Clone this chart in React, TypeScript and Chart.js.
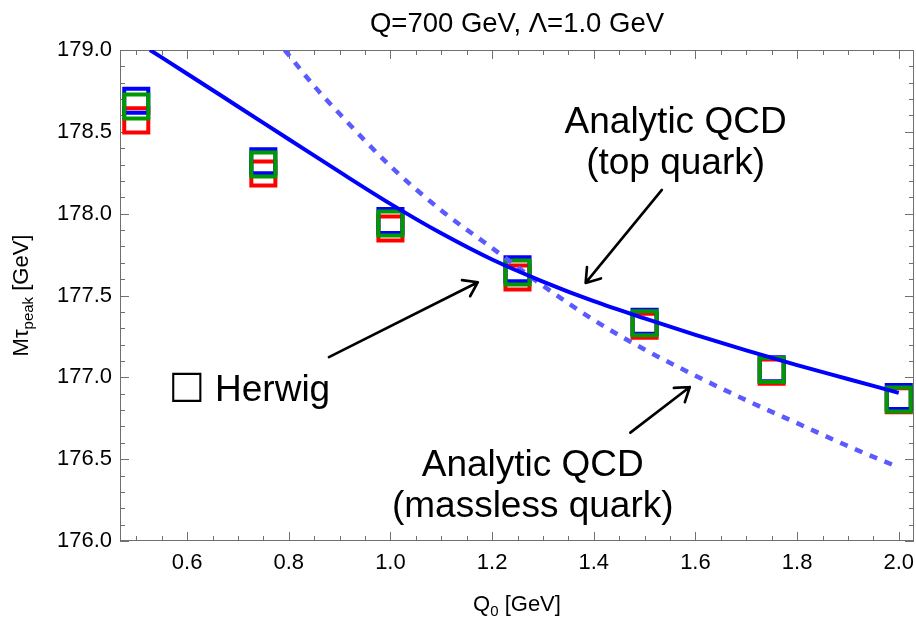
import React, { useEffect, useRef } from 'react';
import { Chart, registerables } from 'chart.js';

Chart.register(...registerables);

// ---- data ----
const herwigQ0 = [0.5, 0.75, 1.0, 1.25, 1.5, 1.75, 2.0];
const herwigRed = [178.57, 178.245, 177.91, 177.61, 177.315, 177.035, 176.86];
const herwigBlue = [178.69, 178.32, 177.955, 177.66, 177.34, 177.05, 176.88];
const herwigGreen = [178.655, 178.3, 177.94, 177.64, 177.33, 177.045, 176.865];

const topQuarkQ0 = [0.527, 0.6, 0.7, 0.8, 0.9, 1.0, 1.1, 1.2, 1.3, 1.4, 1.5, 1.6, 1.7, 1.8, 1.9, 2.0];
const topQuarkM = [179.0, 178.855, 178.655, 178.455, 178.255, 178.06, 177.88, 177.72, 177.585, 177.465, 177.36, 177.26, 177.165, 177.075, 176.99, 176.905];

const masslessQ0 = [0.792, 0.85, 0.9, 1.0, 1.1, 1.2, 1.3, 1.4, 1.5, 1.6, 1.7, 1.8, 1.9, 2.0];
const masslessM = [179.0, 178.78, 178.61, 178.29, 178.02, 177.79, 177.56, 177.35, 177.17, 177.01, 176.86, 176.72, 176.58, 176.45];

const xTickLabels = ['0.6', '0.8', '1.0', '1.2', '1.4', '1.6', '1.8', '2.0'];
const yTickLabels = ['176.0', '176.5', '177.0', '177.5', '178.0', '178.5', '179.0'];

const titleText = 'Q=700 GeV, \u039B=1.0 GeV';
const xTitleMain = 'Q';
const xTitleSub = '0';
const xTitleRest = ' [GeV]';
const yTitleMain = 'M\u03C4';
const yTitleSub = 'peak';
const yTitleRest = ' [GeV]';

// annotations (anchored in data coordinates)
const annotationTexts = [
  { lines: ['Analytic QCD', '(top quark)'], x: 1.561, y: 178.491, align: 'center' },
  { lines: ['Analytic QCD', '(massless quark)'], x: 1.28, y: 176.398, align: 'center' },
];
const herwigSymbol = '\u25A1';
const herwigLabel = 'Herwig';
const herwigSymbolAt = [0.5675, 176.858];
const herwigLabelAt = [0.655, 176.858];
const arrowFrom = [
  [1.534, 178.145],
  [0.879, 177.123],
  [1.472, 176.662],
];
const arrowTo = [
  [1.384, 177.577],
  [1.172, 177.581],
  [1.589, 176.941],
];

const FONT = "'Liberation Sans', Arial, Helvetica, sans-serif";

const toXY = (xs: number[], ys: number[]) => xs.map((x, i) => ({ x, y: ys[i] }));

const matchLabel = (labels: string[], v: number) => {
  const l = labels.find((s) => Math.abs(parseFloat(s) - v) < 1e-6);
  return l === undefined ? '' : l;
};

const framePlugin = {
  id: 'frameTicks',
  beforeDatasetsDraw(chart: any) {
    const { ctx, chartArea: a } = chart;
    ctx.save();
    ctx.strokeStyle = '#707070';
    ctx.lineWidth = 1;
    ctx.strokeRect(a.left + 0.5, a.top + 0.5, a.right - a.left - 1, a.bottom - a.top - 1);
    ctx.beginPath();
    const xs = chart.scales.x;
    const xLabels: [string, number][] = [];
    xs.ticks.forEach((t: any, i: number) => {
      const px = Math.round(xs.getPixelForTick(i)) + 0.5;
      const lab = matchLabel(xTickLabels, t.value);
      const len = lab ? 9 : 5;
      if (lab) xLabels.push([lab, xs.getPixelForTick(i)]);
      ctx.moveTo(px, a.bottom);
      ctx.lineTo(px, a.bottom - len);
      ctx.moveTo(px, a.top);
      ctx.lineTo(px, a.top + len);
    });
    const ys = chart.scales.y;
    ys.ticks.forEach((t: any, i: number) => {
      const py = Math.round(ys.getPixelForTick(i)) + 0.5;
      const len = t.label ? 9 : 5;
      ctx.moveTo(a.left, py);
      ctx.lineTo(a.left + len, py);
      ctx.moveTo(a.right, py);
      ctx.lineTo(a.right - len, py);
    });
    ctx.stroke();
    // x tick labels
    ctx.fillStyle = '#000';
    ctx.font = `22px ${FONT}`;
    ctx.textAlign = 'center';
    ctx.textBaseline = 'middle';
    xLabels.forEach(([lab, px]) => ctx.fillText(lab, px, a.bottom + 22));
    ctx.restore();
  },
};

const textPlugin = {
  id: 'texts',
  afterDatasetsDraw(chart: any) {
    const { ctx, chartArea: a } = chart;
    const xs = chart.scales.x;
    const ys = chart.scales.y;
    ctx.save();
    ctx.fillStyle = '#000';
    ctx.textBaseline = 'alphabetic';

    // title
    ctx.font = `27.5px ${FONT}`;
    ctx.textAlign = 'center';
    ctx.fillText(titleText, (a.left + a.right) / 2, 32);

    // x title with subscript
    ctx.textAlign = 'left';
    ctx.font = `22px ${FONT}`;
    const wQ = ctx.measureText(xTitleMain).width;
    const wRest = ctx.measureText(xTitleRest).width;
    ctx.font = `15px ${FONT}`;
    const wSub = ctx.measureText(xTitleSub).width;
    let xx = (a.left + a.right) / 2 - (wQ + wSub + wRest) / 2;
    const xb = 611;
    ctx.font = `22px ${FONT}`;
    ctx.fillText(xTitleMain, xx, xb);
    xx += wQ;
    ctx.font = `15px ${FONT}`;
    ctx.fillText(xTitleSub, xx, xb + 5);
    xx += wSub;
    ctx.font = `22px ${FONT}`;
    ctx.fillText(xTitleRest, xx, xb);

    // y title rotated
    ctx.save();
    ctx.translate(28, (a.top + a.bottom) / 2);
    ctx.rotate(-Math.PI / 2);
    ctx.font = `22px ${FONT}`;
    const wM = ctx.measureText(yTitleMain).width;
    const wR = ctx.measureText(yTitleRest).width;
    ctx.font = `15px ${FONT}`;
    const wP = ctx.measureText(yTitleSub).width;
    let yy = -(wM + wP + wR) / 2;
    ctx.font = `22px ${FONT}`;
    ctx.fillText(yTitleMain, yy, 0);
    yy += wM;
    ctx.font = `15px ${FONT}`;
    ctx.fillText(yTitleSub, yy, 5);
    yy += wP;
    ctx.font = `22px ${FONT}`;
    ctx.fillText(yTitleRest, yy, 0);
    ctx.restore();

    // annotation texts
    ctx.font = `37px ${FONT}`;
    annotationTexts.forEach((t) => {
      ctx.textAlign = t.align as CanvasTextAlign;
      const px = xs.getPixelForValue(t.x);
      const py = ys.getPixelForValue(t.y);
      t.lines.forEach((line, i) => ctx.fillText(line, px, py + i * 41));
    });
    ctx.textAlign = 'left';
    ctx.fillText(herwigLabel, xs.getPixelForValue(herwigLabelAt[0]), ys.getPixelForValue(herwigLabelAt[1]));
    ctx.font = `38px 'DejaVu Sans', ${FONT}`;
    ctx.fillText(herwigSymbol, xs.getPixelForValue(herwigSymbolAt[0]) - 2, ys.getPixelForValue(herwigSymbolAt[1]) - 4);

    // arrows
    ctx.strokeStyle = '#000';
    ctx.lineWidth = 2.6;
    ctx.lineCap = 'round';
    ctx.lineJoin = 'round';
    arrowFrom.forEach((f, i) => {
      const x0 = xs.getPixelForValue(f[0]);
      const y0 = ys.getPixelForValue(f[1]);
      const x1 = xs.getPixelForValue(arrowTo[i][0]);
      const y1 = ys.getPixelForValue(arrowTo[i][1]);
      const ang = Math.atan2(y0 - y1, x0 - x1);
      const hl = 16;
      const ha = 0.6;
      ctx.beginPath();
      ctx.moveTo(x0, y0);
      ctx.lineTo(x1, y1);
      ctx.moveTo(x1 + hl * Math.cos(ang + ha), y1 + hl * Math.sin(ang + ha));
      ctx.lineTo(x1, y1);
      ctx.lineTo(x1 + hl * Math.cos(ang - ha), y1 + hl * Math.sin(ang - ha));
      ctx.stroke();
    });
    ctx.restore();
  },
};

export default function App() {
  const ref = useRef<HTMLCanvasElement | null>(null);
  useEffect(() => {
    if (!ref.current) return;
    const square = (label: string, ys: number[], color: string) => ({
      type: 'scatter' as const,
      label,
      data: toXY(herwigQ0, ys),
      pointStyle: 'rect',
      pointRadius: 17,
      pointHoverRadius: 17,
      pointBorderWidth: 4,
      borderColor: color,
      pointBorderColor: color,
      backgroundColor: 'rgba(0,0,0,0)',
      pointBackgroundColor: 'rgba(0,0,0,0)',
      showLine: false,
      clip: false,
    });
    const chart = new Chart(ref.current, {
      type: 'scatter',
      data: {
        datasets: [
          {
            type: 'line',
            label: 'Analytic QCD (top quark)',
            data: toXY(topQuarkQ0, topQuarkM),
            borderColor: '#0000ff',
            borderWidth: 4,
            pointRadius: 0,
            cubicInterpolationMode: 'monotone',
            fill: false,
          } as any,
          {
            type: 'line',
            label: 'Analytic QCD (massless quark)',
            data: toXY(masslessQ0, masslessM),
            borderColor: '#5a5aff',
            borderWidth: 4.5,
            borderDash: [8, 8],
            borderCapStyle: 'butt',
            pointRadius: 0,
            cubicInterpolationMode: 'monotone',
            fill: false,
          } as any,
          square('Herwig (green)', herwigGreen, '#009a00') as any,
          square('Herwig (blue)', herwigBlue, '#0000ff') as any,
          square('Herwig (red)', herwigRed, '#ff0000') as any,
        ],
      },
      options: {
        responsive: false,
        animation: false,
        devicePixelRatio: 1,
        layout: { autoPadding: false, padding: { top: 50, right: 2, left: 0, bottom: 0 } },
        plugins: { legend: { display: false }, tooltip: { enabled: false }, title: { display: false } },
        scales: {
          x: {
            type: 'linear',
            min: 0.468,
            max: 2.03,
            grid: { display: false, drawTicks: false },
            border: { display: false },
            ticks: {
              display: false,
              stepSize: 0.05,
              includeBounds: false,
              autoSkip: false,
              maxRotation: 0,
              minRotation: 0,
              callback: (v: any) => matchLabel(xTickLabels, Number(v)),
            },
            afterFit: (s: any) => {
              s.height = 76;
            },
          },
          y: {
            type: 'linear',
            min: 176,
            max: 179,
            grid: { display: false, drawTicks: false },
            border: { display: false },
            ticks: {
              stepSize: 0.1,
              includeBounds: false,
              autoSkip: false,
              padding: 8,
              color: '#000',
              font: { family: FONT, size: 22 },
              callback: (v: any) => matchLabel(yTickLabels, Number(v)),
            },
            afterFit: (s: any) => {
              s.width = 120;
            },
          },
        },
      } as any,
      plugins: [framePlugin, textPlugin],
    });
    return () => chart.destroy();
  }, []);
  return (
    <div style={{ position: 'absolute', left: 0, top: 0, width: 916, height: 617 }}>
      <canvas ref={ref} width={916} height={617} />
    </div>
  );
}
